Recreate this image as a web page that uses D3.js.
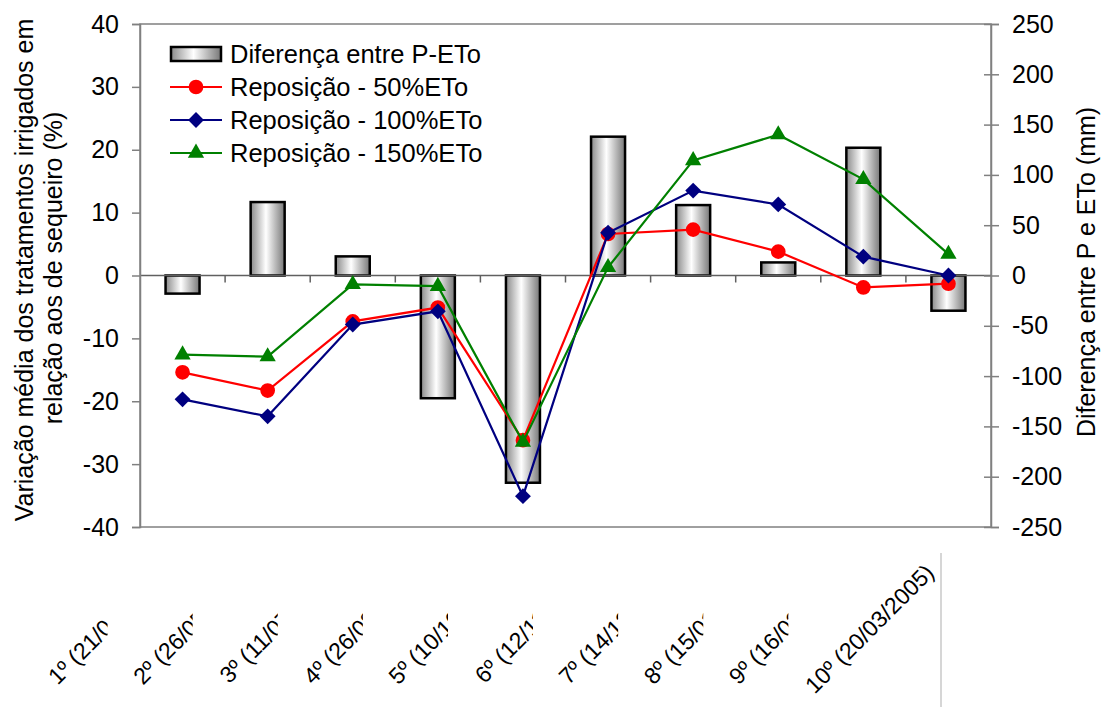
<!DOCTYPE html>
<html>
<head>
<meta charset="utf-8">
<script src="https://cdn.jsdelivr.net/npm/d3@7"></script>
<style>
  body { margin: 0; background: #fff; }
  text { font-family: "Liberation Sans", Arial, sans-serif; fill: #000; }
</style>
</head>
<body>
<svg id="chart" width="1104" height="707"></svg>
<script>
// datas das aplicações (rótulos do eixo x)
const categorias = ['1º (21/04/2004)', '2º (26/05/2004)', '3º (11/07/2004)', '4º (26/08/2004)', '5º (10/10/2004)',
                    '6º (12/11/2004)', '7º (14/12/2004)', '8º (15/01/2005)', '9º (16/02/2005)', '10º (20/03/2005)'];
// barras - eixo direito (mm)
const diferencaPETo = [-18, 73, 19, -122, -206, 138, 70, 13, 127, -35];
// linhas - eixo esquerdo (%)
const rep50  = [-15.4, -18.3, -7.3, -5.1, -26.2, 6.6, 7.3, 3.8, -1.9, -1.3];
const rep100 = [-19.7, -22.4, -7.8, -5.7, -35.1, 6.8, 13.5, 11.3, 3.0, 0.0];
const rep150 = [-12.6, -12.9, -1.4, -1.7, -26.5, 1.3, 18.3, 22.4, 15.3, 3.4];
const ticksEsq = [-40, -30, -20, -10, 0, 10, 20, 30, 40];
const ticksDir = [-250, -200, -150, -100, -50, 0, 50, 100, 150, 200, 250];

const losango = d3.symbolDiamond2 || d3.symbolDiamond;
const series = [
  {nome: 'Reposição - 50%ETo',  valores: rep50,  cor: '#ff0000', marca: d3.symbolCircle,   tam: 170},
  {nome: 'Reposição - 100%ETo', valores: rep100, cor: '#000080', marca: losango,           tam: 160},
  {nome: 'Reposição - 150%ETo', valores: rep150, cor: '#008000', marca: d3.symbolTriangle, tam: 115}
];

const svg = d3.select('#chart');
const esq = 140, dir = 991, topo = 24, base = 527;

const x = d3.scaleBand().domain(categorias).range([esq, dir]);
const yL = d3.scaleLinear().domain([-40, 40]).range([base, topo]);
const yR = d3.scaleLinear().domain([-250, 250]).range([base, topo]);

// gradiente das barras
const defs = svg.append('defs');
const grad = defs.append('linearGradient').attr('id', 'gradBarra')
  .attr('x1', '0%').attr('x2', '100%').attr('y1', '0%').attr('y2', '0%');
grad.append('stop').attr('offset', '0%').attr('stop-color', '#8a8a8a');
grad.append('stop').attr('offset', '45%').attr('stop-color', '#ffffff');
grad.append('stop').attr('offset', '100%').attr('stop-color', '#777777');

// borda da área do gráfico
svg.append('rect').attr('x', esq).attr('y', topo).attr('width', dir - esq).attr('height', base - topo)
  .attr('fill', 'none').attr('stroke', '#808080').attr('stroke-width', 1.5);

// barras
const larg = 34;
svg.selectAll('rect.barra').data(diferencaPETo).join('rect').attr('class', 'barra')
  .attr('x', (d, i) => x(categorias[i]) + x.bandwidth() / 2 - larg / 2)
  .attr('y', d => yR(Math.max(0, d)))
  .attr('width', larg)
  .attr('height', d => Math.abs(yR(d) - yR(0)))
  .attr('fill', 'url(#gradBarra)').attr('stroke', '#000').attr('stroke-width', 2.5);

// eixo x (linha do zero)
const y0 = yL(0);
svg.append('line').attr('x1', esq).attr('x2', dir).attr('y1', y0).attr('y2', y0)
  .attr('stroke', '#606060').attr('stroke-width', 1.5);
svg.selectAll('line.tickx').data(d3.range(1, categorias.length)).join('line').attr('class', 'tickx')
  .attr('x1', i => esq + i * x.step()).attr('x2', i => esq + i * x.step())
  .attr('y1', y0).attr('y2', y0 + 7).attr('stroke', '#606060').attr('stroke-width', 1.5);

// eixos y (hífen normal no lugar do sinal de menos)
const fmt = d => String(d);
const eixoEsq = svg.append('g').attr('transform', `translate(${esq},0)`)
  .call(d3.axisLeft(yL).tickValues(ticksEsq).tickFormat(fmt).tickSize(8).tickPadding(13));
const eixoDir = svg.append('g').attr('transform', `translate(${dir},0)`)
  .call(d3.axisRight(yR).tickValues(ticksDir).tickFormat(fmt).tickSize(8).tickPadding(13));
eixoDir.selectAll('.tick line').attr('x1', -7);
[eixoEsq, eixoDir].forEach(g => {
  g.select('.domain').attr('stroke', '#808080').attr('stroke-width', 1.5);
  g.selectAll('.tick line').attr('stroke', '#808080').attr('stroke-width', 1.5);
  g.selectAll('.tick text').style('font-size', '25px');
});

// linhas e marcadores
const linha = d3.line().x((d, i) => x(categorias[i]) + x.bandwidth() / 2).y(d => yL(d));
series.forEach(s => {
  svg.append('path').datum(s.valores).attr('d', linha)
    .attr('fill', 'none').attr('stroke', s.cor).attr('stroke-width', 2.2);
  svg.selectAll(null).data(s.valores).join('path')
    .attr('transform', (d, i) => `translate(${x(categorias[i]) + x.bandwidth() / 2},${yL(d)})`)
    .attr('d', d3.symbol().type(s.marca).size(s.tam)).attr('fill', s.cor);
});

// rótulos do eixo x, rotacionados e cortados como no original
categorias.forEach((c, i) => {
  const cx = x(c) + x.bandwidth() / 2;
  const g = svg.append('g');
  if (i < categorias.length - 1) {
    defs.append('clipPath').attr('id', 'corte' + i)
      .append('rect').attr('x', 0).attr('y', 540).attr('width', cx - 75).attr('height', 170);
    g.attr('clip-path', `url(#corte${i})`);
  }
  g.append('text').attr('transform', `translate(${cx - 13},${574}) rotate(-45)`)
    .attr('text-anchor', 'end').style('font-size', '23px').text(c);
});
svg.append('line').attr('x1', 941).attr('x2', 941).attr('y1', 553).attr('y2', 707)
  .attr('stroke', '#c8c8c8').attr('stroke-width', 1.5);

// títulos dos eixos
svg.append('text').attr('transform', 'translate(33,270) rotate(-90)').attr('text-anchor', 'middle')
  .style('font-size', '25px').text('Variação média dos tratamentos irrigados em');
svg.append('text').attr('transform', 'translate(62,268) rotate(-90)').attr('text-anchor', 'middle')
  .style('font-size', '25px').text('relação aos de sequeiro (%)');
svg.append('text').attr('transform', 'translate(1095,272) rotate(-90)').attr('text-anchor', 'middle')
  .style('font-size', '25px').text('Diferença entre P e ETo (mm)');

// legenda
const legY = [54, 87, 120, 153];
svg.append('rect').attr('x', 171).attr('y', legY[0] - 7).attr('width', 50).attr('height', 14)
  .attr('fill', 'url(#gradBarra)').attr('stroke', '#000').attr('stroke-width', 2.5);
svg.append('text').attr('x', 230).attr('y', legY[0]).attr('dy', '0.35em').style('font-size', '25.5px')
  .text('Diferença entre P-ETo');
series.forEach((s, k) => {
  const ly = legY[k + 1];
  svg.append('line').attr('x1', 170).attr('x2', 222).attr('y1', ly).attr('y2', ly)
    .attr('stroke', s.cor).attr('stroke-width', 2.2);
  svg.append('path').attr('transform', `translate(196,${ly})`)
    .attr('d', d3.symbol().type(s.marca).size(s.tam)).attr('fill', s.cor);
  svg.append('text').attr('x', 230).attr('y', ly).attr('dy', '0.35em').style('font-size', '25.5px').text(s.nome);
});
</script>
</body>
</html>
